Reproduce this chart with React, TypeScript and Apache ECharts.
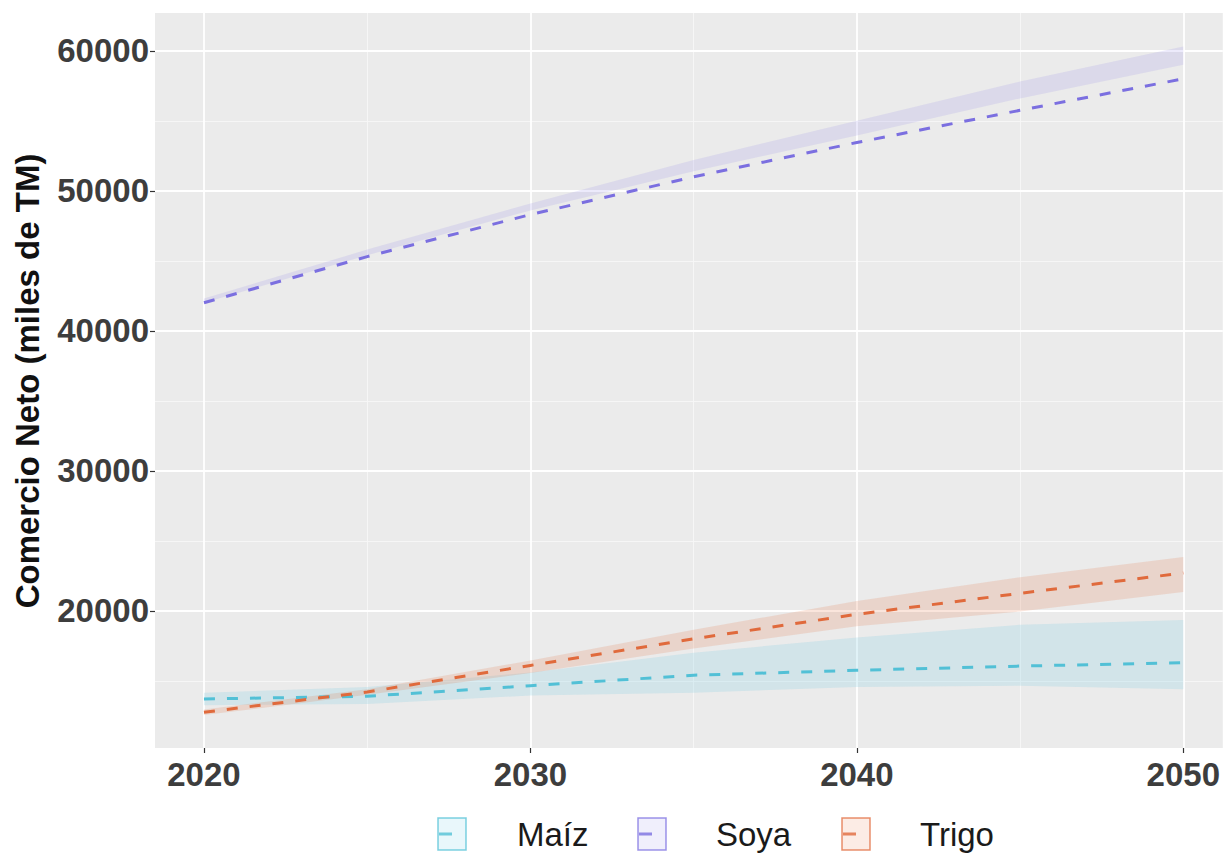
import React, { useEffect, useRef } from "react";
import * as echarts from "echarts";

const years = [2020, 2025, 2030, 2035, 2040, 2045, 2050];
const seriesNames = ["Maíz", "Soya", "Trigo"];

const maizMean = [13700, 13900, 14650, 15400, 15750, 16050, 16300];
const maizLower = [13250, 13350, 13950, 14150, 14550, 14650, 14400];
const maizUpper = [14150, 14550, 15600, 17000, 18100, 19000, 19350];

const soyaMean = [42000, 45300, 48300, 51000, 53450, 55750, 58000];
const soyaLower = [42000, 45400, 48600, 51400, 53950, 56600, 59000];
const soyaUpper = [42300, 45800, 49100, 52200, 55000, 57800, 60300];

const trigoMean = [12750, 14200, 16100, 18000, 19750, 21250, 22700];
const trigoLower = [12550, 14000, 15550, 17300, 18900, 19950, 21350];
const trigoUpper = [12950, 14400, 16450, 18650, 20700, 22400, 23850];

const xTicks = [2020, 2030, 2040, 2050];
const xMinorGrid = [2025, 2035, 2045];
const yTicks = [20000, 30000, 40000, 50000, 60000];
const yMinorGrid = [15000, 25000, 35000, 45000, 55000];

const yTitle = "Comercio Neto (miles de TM)";

const lineColors = ["#52C0D6", "#7B6FE0", "#E06A3C"];
const bandColors = [
  "rgba(110,200,225,0.20)",
  "rgba(140,130,230,0.17)",
  "rgba(230,110,60,0.18)",
];

const FONT = "'Liberation Sans', Arial, sans-serif";

export default function App() {
  const ref = useRef<HTMLDivElement>(null);

  useEffect(() => {
    if (!ref.current) return;
    const chart = echarts.init(ref.current, undefined, { renderer: "svg" });

    const means = [maizMean, soyaMean, trigoMean];
    const lowers = [maizLower, soyaLower, trigoLower];
    const uppers = [maizUpper, soyaUpper, trigoUpper];

    const series: any[] = [];

    // gridlines carrier
    series.push({
      type: "line",
      name: "__grid",
      data: [],
      silent: true,
      z: 1,
      markLine: {
        z: 1,
        silent: true,
        symbol: "none",
        label: { show: false },
        animation: false,
        data: [
          ...yMinorGrid.map((v) => ({ yAxis: v, lineStyle: { color: "#F7F7F7", width: 0.9, type: "solid" } })),
          ...xMinorGrid.map((v) => ({ xAxis: v, lineStyle: { color: "#F7F7F7", width: 0.9, type: "solid" } })),
          ...yTicks.map((v) => ({ yAxis: v, lineStyle: { color: "#FFFFFF", width: 1.8, type: "solid" } })),
          ...xTicks.map((v) => ({ xAxis: v, lineStyle: { color: "#FFFFFF", width: 1.8, type: "solid" } })),
        ],
      },
    });

    seriesNames.forEach((name, i) => {
      const bandData = years.map((y, k) => [y, lowers[i][k], uppers[i][k]]);
      series.push({
        type: "custom",
        name: name + "_band",
        silent: true,
        z: 2,
        data: [0],
        renderItem: (params: any, api: any) => {
          const top = bandData.map((d) => api.coord([d[0], d[2]]));
          const bottom = bandData
            .slice()
            .reverse()
            .map((d) => api.coord([d[0], d[1]]));
          return {
            type: "polygon",
            shape: { points: top.concat(bottom) },
            style: { fill: bandColors[i], stroke: "none" },
          };
        },
      });
    });

    seriesNames.forEach((name, i) => {
      series.push({
        type: "line",
        name,
        data: years.map((y, k) => [y, means[i][k]]),
        symbol: "none",
        lineStyle: { color: lineColors[i], width: 3, type: [11, 12] },
        z: 3,
      });
    });

    // legend via graphic
    const keyX = [438, 638, 842];
    const textX = [517, 716, 920];
    const legendY = 834;
    const legendEls: any[] = [];
    seriesNames.forEach((name, i) => {
      legendEls.push({
        type: "rect",
        shape: { x: keyX[i], y: legendY - 16, width: 28, height: 32 },
        style: { fill: bandColors[i], stroke: lineColors[i], lineWidth: 1.5, opacity: 0.75 },
      });
      legendEls.push({
        type: "line",
        shape: { x1: keyX[i] + 1, y1: legendY, x2: keyX[i] + 14, y2: legendY },
        style: { stroke: lineColors[i], lineWidth: 3, opacity: 0.8 },
      });
      legendEls.push({
        type: "text",
        x: textX[i],
        y: legendY,
        style: {
          text: name,
          font: `33px ${FONT}`,
          fill: "#1a1a1a",
          textVerticalAlign: "middle",
          textAlign: "left",
        },
      });
    });

    chart.setOption({
      animation: false,
      backgroundColor: "#FFFFFF",
      grid: {
        left: 155,
        right: 0,
        top: 13,
        bottom: 105,
        show: true,
        backgroundColor: "#EBEBEB",
        borderWidth: 0,
      },
      xAxis: {
        type: "value",
        min: 2018.5,
        max: 2051.21,
        splitLine: { show: false },
        axisLine: { show: false },
        axisTick: {
          show: true,
          customValues: xTicks,
          length: 5,
          lineStyle: { color: "#333333", width: 1.2 },
        },
        axisLabel: {
          customValues: xTicks,
          formatter: (v: number) => String(v),
          fontFamily: FONT,
          fontWeight: "bold",
          fontSize: 33,
          color: "#3D3D3D",
          margin: 10,
        },
      },
      yAxis: {
        type: "value",
        min: 10200,
        max: 62700,
        splitLine: { show: false },
        axisLine: { show: false },
        axisTick: {
          show: true,
          customValues: yTicks,
          length: 5,
          lineStyle: { color: "#333333", width: 1.2 },
        },
        axisLabel: {
          customValues: yTicks,
          formatter: (v: number) => String(v),
          fontFamily: FONT,
          fontWeight: "bold",
          fontSize: 33,
          color: "#3D3D3D",
          margin: 6,
        },
      },
      graphic: [
        {
          type: "text",
          x: 27,
          y: 381,
          rotation: Math.PI / 2,
          style: {
            text: yTitle,
            font: `bold 33px ${FONT}`,
            fill: "#111111",
            textAlign: "center",
            textVerticalAlign: "middle",
          },
        },
        ...legendEls,
      ],
      series,
    });

    return () => chart.dispose();
  }, []);

  return (
    <div
      ref={ref}
      style={{ position: "fixed", left: 0, top: 0, width: 1223, height: 853 }}
    />
  );
}
